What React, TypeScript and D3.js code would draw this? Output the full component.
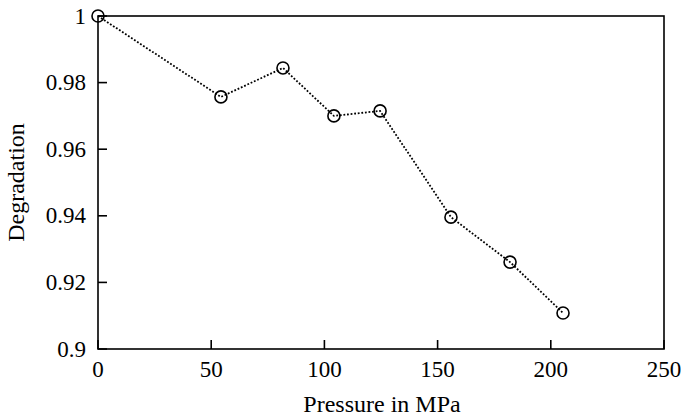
import React from "react";
import * as d3 from "d3";

const pressure = [0, 54.3, 81.7, 104.2, 124.6, 155.9, 182, 205.4];
const degradation = [1.0, 0.9757, 0.9844, 0.97, 0.9715, 0.9396, 0.9261, 0.9108];
const xTicks = [0, 50, 100, 150, 200, 250];
const yTicks = [0.9, 0.92, 0.94, 0.96, 0.98, 1];
const xTitle = "Pressure in MPa";
const yTitle = "Degradation";

export default function App() {
  const W = 685, H = 419;
  const L = 98, R = 664, T = 16, B = 349;
  const x = d3.scaleLinear().domain([0, 250]).range([L, R]);
  const y = d3.scaleLinear().domain([0.9, 1]).range([B, T]);
  const pts = pressure.map((p, i) => [x(p), y(degradation[i])] as [number, number]);
  const line = d3.line()(pts) || "";
  const ts = { fontFamily: "Liberation Serif", fontSize: "23px" } as React.CSSProperties;
  const tt = { fontFamily: "Liberation Serif", fontSize: "24px" } as React.CSSProperties;
  const fmtY = (v: number) => (v === 1 ? "1" : v === 0.9 ? "0.9" : v.toFixed(2));
  return (
    <svg width={W} height={H} style={{ position: "absolute", left: 0, top: 0, background: "#fff" }}>
      <rect x={0} y={0} width={W} height={H} fill="#fff" />
      <path d={line} fill="none" stroke="#000" strokeWidth={1.8} strokeDasharray="1.8,1.8" />
      <rect x={L} y={T} width={R - L} height={B - T} fill="none" stroke="#000" strokeWidth={1.6} />
      {xTicks.map((t) => (
        <g key={"x" + t}>
          <line x1={x(t)} x2={x(t)} y1={B} y2={B - 9} stroke="#000" strokeWidth={1.6} />
          <text x={x(t)} y={B + 28} textAnchor="middle" style={ts} fill="#000">
            {t}
          </text>
        </g>
      ))}
      {yTicks.map((t) => (
        <g key={"y" + t}>
          <line x1={L} x2={L + 9} y1={y(t)} y2={y(t)} stroke="#000" strokeWidth={1.6} />
          <text x={L - 12} y={y(t) + 7.5} textAnchor="end" style={ts} fill="#000">
            {fmtY(t)}
          </text>
        </g>
      ))}
      {pts.map((p, i) => (
        <circle key={i} cx={p[0]} cy={p[1]} r={6} fill="none" stroke="#000" strokeWidth={1.6} />
      ))}
      <text x={382} y={412} textAnchor="middle" style={tt} fill="#000">
        {xTitle}
      </text>
      <text transform={`translate(24, ${(T + B) / 2}) rotate(-90)`} textAnchor="middle" style={tt} fill="#000">
        {yTitle}
      </text>
    </svg>
  );
}
